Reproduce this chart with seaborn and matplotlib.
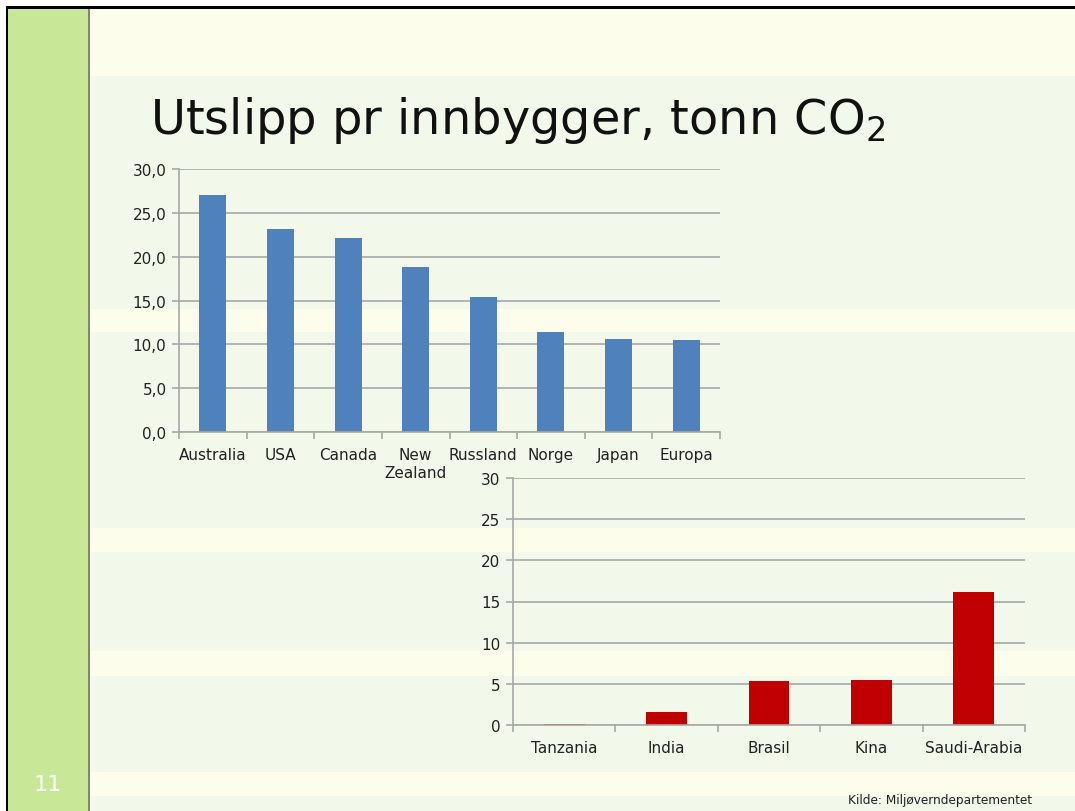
import matplotlib
matplotlib.use("Agg")
import matplotlib.pyplot as plt
import seaborn as sns
from matplotlib.patches import Rectangle
from matplotlib.ticker import FixedLocator, FuncFormatter

# data
countries_high = ["Australia", "USA", "Canada", "New\nZealand", "Russland", "Norge", "Japan", "Europa"]
emissions_high = [27.0, 23.1, 22.1, 18.8, 15.4, 11.4, 10.6, 10.5]
countries_low = ["Tanzania", "India", "Brasil", "Kina", "Saudi-Arabia"]
emissions_low = [0.1, 1.6, 5.4, 5.5, 16.1]
yticks = [0, 5, 10, 15, 20, 25, 30]

sns.set_theme(style="white")
plt.rcParams["font.family"] = ["DejaVu Sans"]

W, H = 1075, 812
fig = plt.figure(figsize=(W / 100, H / 100), dpi=100)
fig.patch.set_facecolor("#f3f9ea")


def px_rect(x0, y0, x1, y1, color):
    fig.patches.append(Rectangle((x0 / W, 1 - y1 / H), (x1 - x0) / W, (y1 - y0) / H,
                                 transform=fig.transFigure, facecolor=color,
                                 edgecolor="none", zorder=-1))


# slide background: pale bands, green side bar, frame
for y0, y1 in [(10, 77), (310, 333), (529, 553), (652, 677), (773, 797)]:
    px_rect(0, y0, W, y1, "#fcfdeb")
px_rect(8, 10, 88, H, "#c8e898")
px_rect(88, 10, 90, H, "#7d8a6a")
px_rect(0, 0, W, 7, "white")
px_rect(0, 0, 6, H, "white")
px_rect(6, 7, W, 10, "black")
px_rect(6, 7, 8, H, "black")

grid_col = "#a8a8a8"
text_col = "#222222"


def style_axes(ax, n, fmt):
    ax.set_facecolor("none")
    ax.set_ylim(0, 30)
    ax.set_yticks(yticks)
    ax.yaxis.set_major_formatter(FuncFormatter(fmt))
    ax.yaxis.grid(True, color=grid_col, linewidth=1.2)
    ax.set_axisbelow(True)
    ax.set_xlabel("")
    ax.set_ylabel("")
    for s in ["top", "right"]:
        ax.spines[s].set_visible(False)
    for s in ["left", "bottom"]:
        ax.spines[s].set_color(grid_col)
        ax.spines[s].set_linewidth(1.2)
    ax.xaxis.set_minor_locator(FixedLocator([i - 0.5 for i in range(n + 1)]))
    ax.tick_params(axis="x", which="major", length=0, pad=11, labelsize=11,
                   labelcolor=text_col)
    ax.tick_params(axis="x", which="minor", bottom=True, length=5, width=1.2, color=grid_col)
    ax.tick_params(axis="y", which="major", left=True, length=5, width=1.2, color=grid_col,
                   labelsize=11, labelcolor=text_col, pad=4)


# top chart
ax1 = fig.add_axes([179 / W, 1 - 433 / H, 541 / W, 263 / H])
sns.barplot(x=countries_high, y=emissions_high, color="#4f81bd", saturation=1,
            width=0.4, linewidth=0, ax=ax1)
style_axes(ax1, len(countries_high), lambda v, p: f"{v:.1f}".replace(".", ","))

# bottom chart
ax2 = fig.add_axes([513 / W, 1 - 726 / H, 512 / W, 247 / H])
sns.barplot(x=countries_low, y=emissions_low, color="#c00000", saturation=1,
            width=0.4, linewidth=0, ax=ax2)
style_axes(ax2, len(countries_low), lambda v, p: f"{v:.0f}")

fig.text(150 / W, 1 - 134 / H, "Utslipp pr innbygger, tonn CO$_2$", fontsize=34.5,
         va="baseline", color="#111111")
fig.text(48 / W, 1 - 785 / H, "11", color="white", fontsize=16, ha="center", va="center")
fig.text(1032 / W, 1 - 801 / H, "Kilde: Miljøverndepartementet", fontsize=8.7,
         ha="right", va="center", color=text_col)

fig.savefig("out.png", dpi=100)
